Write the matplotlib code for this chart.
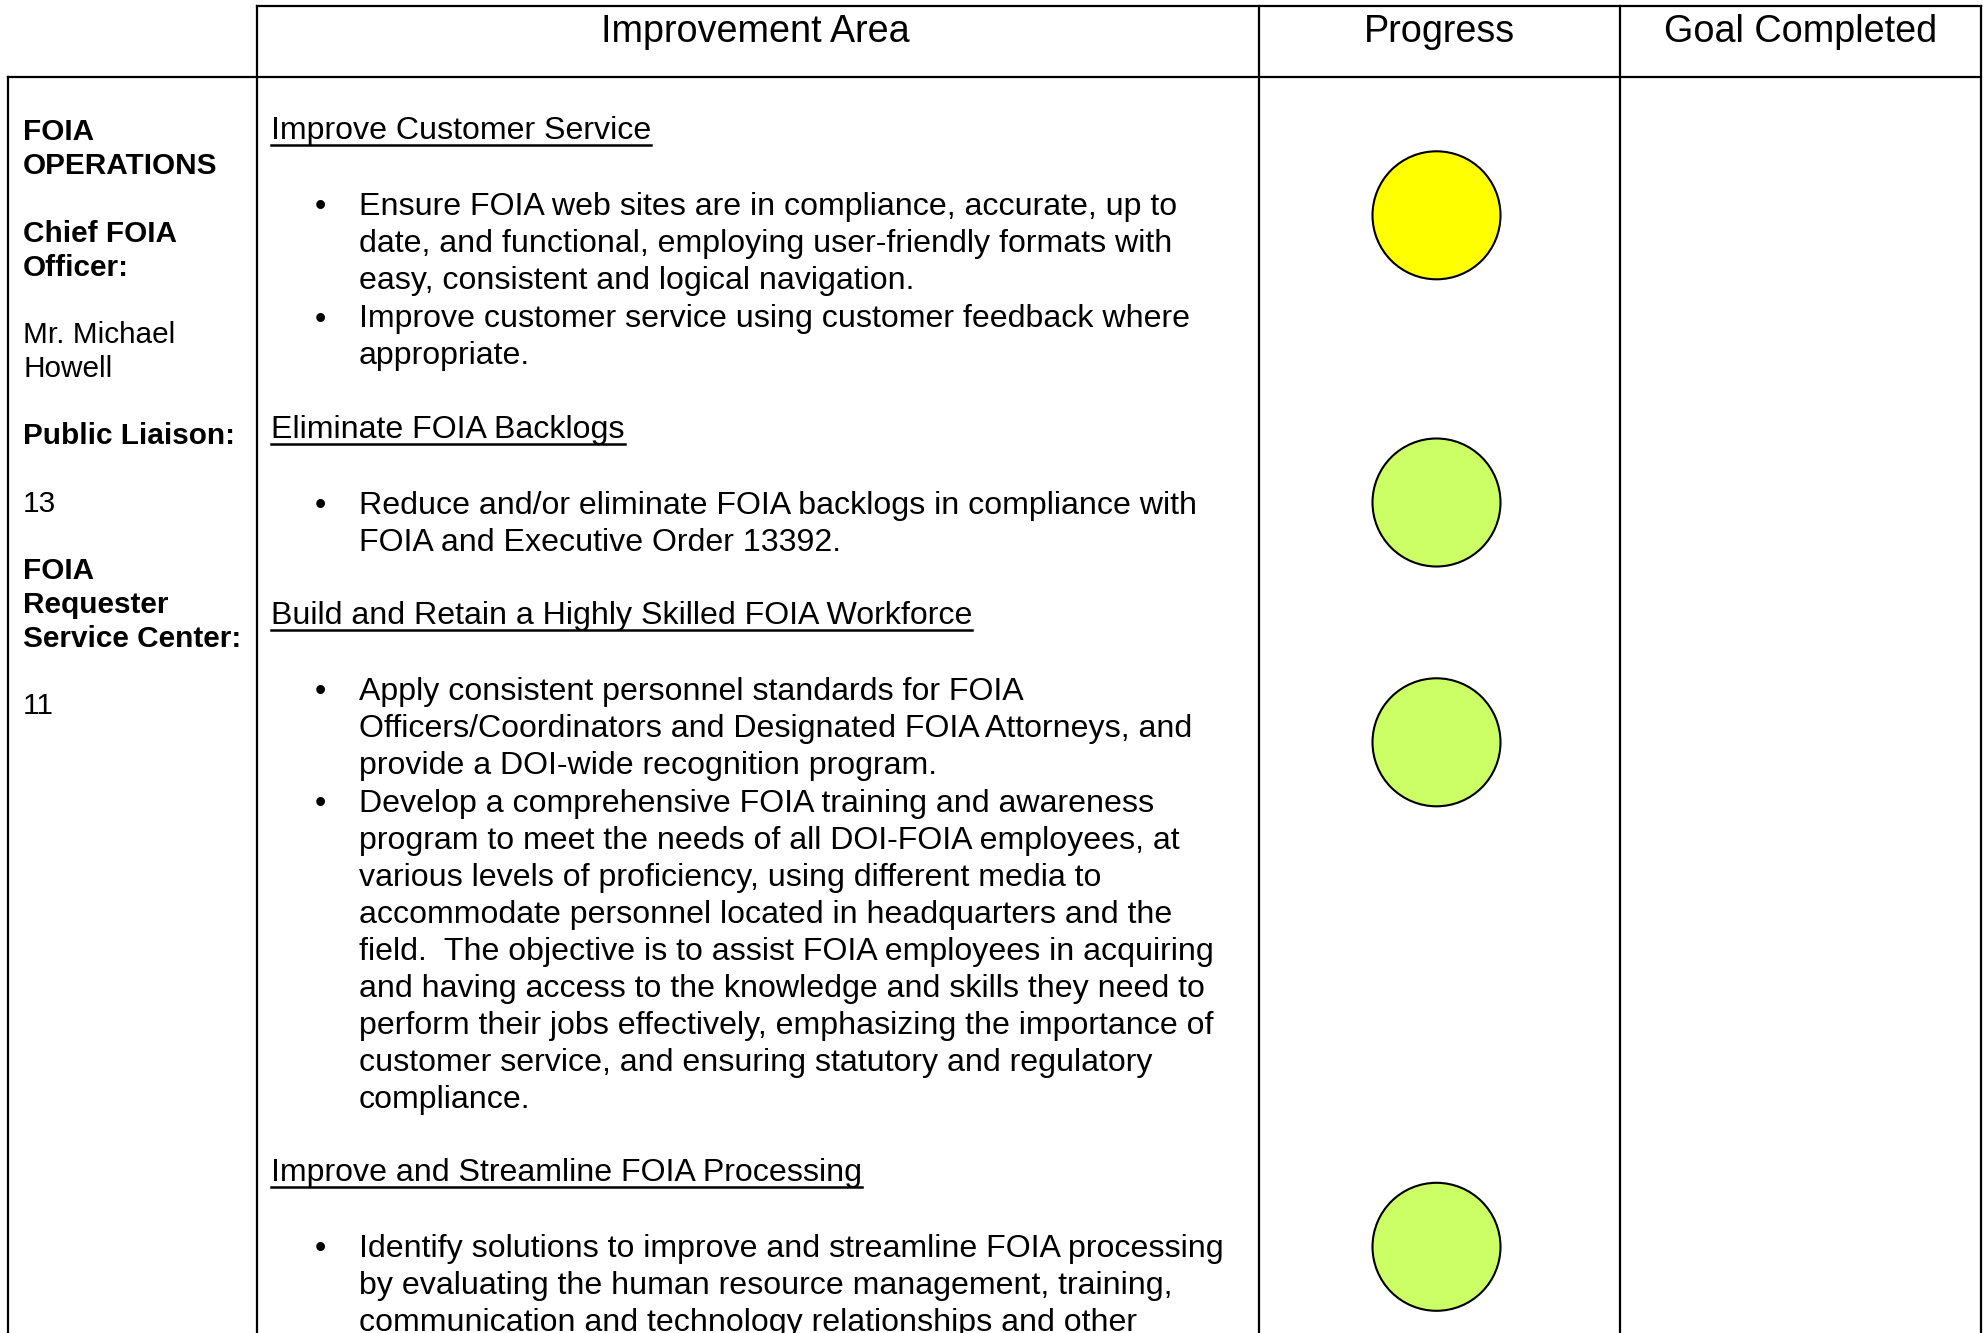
import matplotlib
matplotlib.use("Agg")
import matplotlib.pyplot as plt
from matplotlib.patches import Circle

# ---------------- data ----------------
headers = ["Improvement Area", "Progress", "Goal Completed"]

left_lines = ["FOIA", "OPERATIONS", "", "Chief FOIA", "Officer:", "",
              "Mr. Michael", "Howell", "", "Public Liaison:", "", "13", "",
              "FOIA", "Requester", "Service Center:", "", "11"]
left_bold = [True, True, False, True, True, False,
             False, False, False, True, False, False, False,
             True, True, True, False, False]

section_titles = [
    "Improve Customer Service",
    "Eliminate FOIA Backlogs",
    "Build and Retain a Highly Skilled FOIA Workforce",
    "Improve and Streamline FOIA Processing",
]
section_bullets = [
    [
        ["Ensure FOIA web sites are in compliance, accurate, up to",
         "date, and functional, employing user-friendly formats with",
         "easy, consistent and logical navigation."],
        ["Improve customer service using customer feedback where",
         "appropriate."],
    ],
    [
        ["Reduce and/or eliminate FOIA backlogs in compliance with",
         "FOIA and Executive Order 13392."],
    ],
    [
        ["Apply consistent personnel standards for FOIA",
         "Officers/Coordinators and Designated FOIA Attorneys, and",
         "provide a DOI-wide recognition program."],
        ["Develop a comprehensive FOIA training and awareness",
         "program to meet the needs of all DOI-FOIA employees, at",
         "various levels of proficiency, using different media to",
         "accommodate personnel located in headquarters and the",
         "field.  The objective is to assist FOIA employees in acquiring",
         "and having access to the knowledge and skills they need to",
         "perform their jobs effectively, emphasizing the importance of",
         "customer service, and ensuring statutory and regulatory",
         "compliance."],
    ],
    [
        ["Identify solutions to improve and streamline FOIA processing",
         "by evaluating the human resource management, training,",
         "communication and technology relationships and other"],
    ],
]
progress_status = ["In progress", "On track", "On track", "On track"]
status_colors = {"In progress": "#FFFF00", "On track": "#CCFF66"}
goal_completed = ["", "", "", ""]

# ---------------- layout (pixels) ----------------
W, H = 1984, 1333
FONT = "Liberation Sans"
col_x = [257, 1259, 1620, 1981]   # header box verticals
left_x = 8
top_y, head_y = 6, 77
LW = 1.6

body_fs = 23.1
head_fs = 27.2
left_fs = 21.4

fig = plt.figure(figsize=(W / 100, H / 100), dpi=100)
ax = fig.add_axes([0, 0, 1, 1])
ax.set_xlim(0, W)
ax.set_ylim(H, 0)
ax.axis("off")

# table lines
ax.plot([col_x[0], col_x[-1]], [top_y, top_y], color="black", lw=LW, solid_capstyle="projecting")
ax.plot([left_x, col_x[-1]], [head_y, head_y], color="black", lw=LW, solid_capstyle="projecting")
ax.plot([left_x, left_x], [head_y, H + 5], color="black", lw=LW)
for x in col_x:
    ax.plot([x, x], [top_y, H + 5], color="black", lw=LW, solid_capstyle="projecting")

# headers
header_shift = [-3, 0, 0]
for i, h in enumerate(headers):
    cx = (col_x[i] + col_x[i + 1]) / 2 + header_shift[i]
    ax.text(cx, 42.5, h, ha="center", va="baseline", fontsize=head_fs, family=FONT)

# left column
lpitch = 33.75
for i, (t, b) in enumerate(zip(left_lines, left_bold)):
    if t:
        ax.text(23, 140.5 + i * lpitch, t, ha="left", va="baseline", fontsize=left_fs,
                family=FONT, fontweight="bold" if b else "normal")

# middle column
pitch = 36.9
y = 139.3
title_artists = []
head_ys = []
for s, (title, bullets) in enumerate(zip(section_titles, section_bullets)):
    t = ax.text(271, y, title, ha="left", va="baseline", fontsize=body_fs, family=FONT)
    title_artists.append((t, y))
    head_ys.append(y)
    y += 75.8
    for bi, blines in enumerate(bullets):
        if bi > 0:
            y += 38.6
        ax.text(320, y, "\u2022", ha="center", va="baseline", fontsize=body_fs, family=FONT)
        for li, line in enumerate(blines):
            if li > 0:
                y += pitch
            ax.text(359, y, line, ha="left", va="baseline", fontsize=body_fs, family=FONT)
    y += 73.6

# underlines for section titles
fig.canvas.draw()
r = fig.canvas.get_renderer()
inv = ax.transData.inverted()
for t, by in title_artists:
    bb = t.get_window_extent(renderer=r)
    (x0, _), (x1, _) = inv.transform([[bb.x0, bb.y0], [bb.x1, bb.y1]])
    ax.plot([x0, x1], [by + 5.5, by + 5.5], color="black", lw=1.8)

# progress circles (offset from each section title baseline)
circle_offsets = [76, 64.5, 118, 65.5]
pcx = (col_x[1] + col_x[2]) / 2 - 3
for s, st in enumerate(progress_status):
    cy = head_ys[s] + circle_offsets[s]
    ax.add_patch(Circle((pcx, cy), 64, facecolor=status_colors[st],
                        edgecolor="black", lw=1.5, zorder=3))

fig.savefig("out.png", dpi=100, facecolor="white")
